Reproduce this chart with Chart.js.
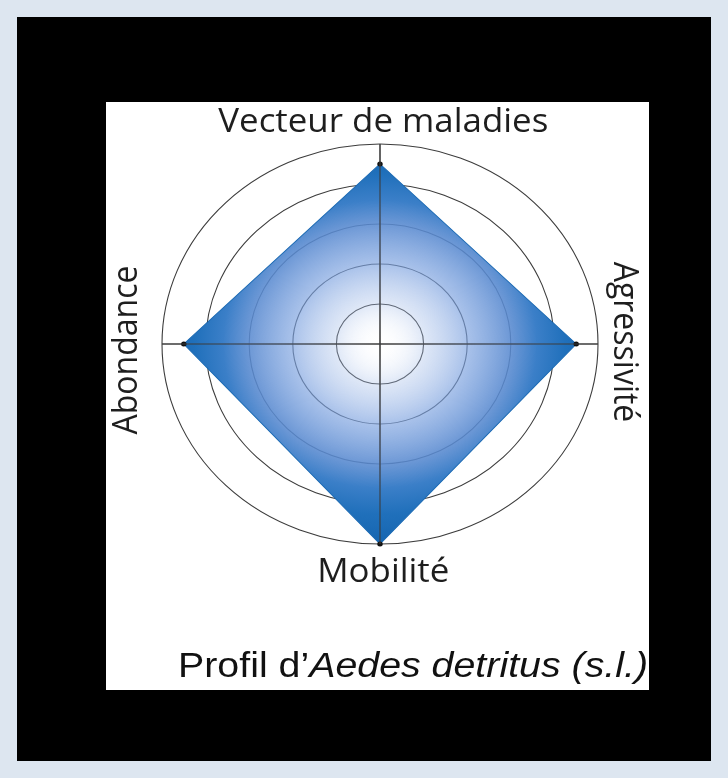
<!DOCTYPE html>
<html lang="fr">
<head>
<meta charset="utf-8">
<title>Profil d'Aedes detritus</title>
<script src="https://cdn.jsdelivr.net/npm/chart.js@4.4.1/dist/chart.umd.min.js"></script>
<style>
  html, body { margin: 0; padding: 0; }
  body { width: 728px; height: 778px; background: #dde6f0; position: relative; overflow: hidden; }
  #frame { position: absolute; left: 17px; top: 17px; width: 694px; height: 744px; background: #000; }
  #panel { position: absolute; left: 106px; top: 102px; width: 543px; height: 588px; background: #fff; }
  #graph { position: absolute; left: 0; top: 0; }
</style>
</head>
<body>
<div id="frame"></div>
<div id="panel"></div>
<canvas id="graph" width="728" height="778"></canvas>
<script>
var axisLabels = ['Vecteur de maladies', 'Agressivité', 'Mobilité', 'Abondance'];
var profileValues = [4.5, 4.5, 5, 4.5];
var scaleMax = 5;
var ringStep = 1;
var captionPlain = 'Profil d\u2019';
var captionItalic = 'Aedes detritus (s.l.)';

// the source picture is stretched sideways, so the rings are ellipses
var stretchX = 1.09;

// label placement (gap past the outer ring, small shift, rotation)
var labelGap = [12, 15, 38, 23];
var labelShift = [[3, 0], [0, -2], [3, 0], [0, 6]];
var labelRotation = [0, Math.PI / 2, 0, -Math.PI / 2];

var gridColor = '#3c3c3c';

// white centre fading to deep blue, see-through near the middle so the rings show
function fillGradient(context) {
  var chart = context.chart;
  var r = chart.scales.r;
  if (!r || !chart.chartArea) return '#2070bb';
  var g = chart.ctx.createRadialGradient(r.xCenter, r.yCenter, 0, r.xCenter, r.yCenter, r.drawingArea);
  g.addColorStop(0, 'rgba(255,255,255,0)');
  g.addColorStop(0.2, 'rgba(164,189,232,0.35)');
  g.addColorStop(0.4, 'rgba(123,161,223,0.65)');
  g.addColorStop(0.6, 'rgba(89,138,208,0.88)');
  g.addColorStop(0.72, 'rgba(59,127,200,1)');
  g.addColorStop(0.85, 'rgba(32,112,187,1)');
  g.addColorStop(1, 'rgba(21,101,176,1)');
  return g;
}

var stretchPlugin = {
  id: 'stretch',
  beforeDraw: function(chart) {
    var r = chart.scales.r, ctx = chart.ctx;
    ctx.save();
    ctx.translate(r.xCenter, 0);
    ctx.scale(stretchX, 1);
    ctx.translate(-r.xCenter, 0);
  },
  afterDatasetsDraw: function(chart) {
    var r = chart.scales.r, ctx = chart.ctx, i, p;

    // axis lines go over the fill
    ctx.save();
    ctx.strokeStyle = gridColor;
    ctx.lineWidth = 1;
    for (i = 0; i < chart.data.labels.length; i++) {
      p = r.getPointPosition(i, r.drawingArea);
      ctx.beginPath();
      ctx.moveTo(r.xCenter, r.yCenter);
      ctx.lineTo(p.x, p.y);
      ctx.stroke();
    }
    ctx.restore();

    // axis names, the side ones turned
    ctx.save();
    ctx.fillStyle = '#1e1e1e';
    ctx.font = '32px "Open Sans", "Noto Sans", sans-serif';
    ctx.textAlign = 'center';
    ctx.textBaseline = 'alphabetic';
    for (i = 0; i < chart.data.labels.length; i++) {
      p = r.getPointPosition(i, r.drawingArea + labelGap[i]);
      ctx.save();
      ctx.translate(p.x + labelShift[i][0], p.y + labelShift[i][1]);
      ctx.rotate(labelRotation[i]);
      ctx.fillText(chart.data.labels[i], 0, 0);
      ctx.restore();
    }
    ctx.restore();
  },
  afterDraw: function(chart) {
    var ctx = chart.ctx;
    ctx.restore();

    // caption under the chart
    var plainFont = '35px "Liberation Sans", Arial, sans-serif';
    var italicFont = 'italic 35px "Liberation Sans", Arial, sans-serif';
    ctx.save();
    ctx.fillStyle = '#111';
    ctx.textAlign = 'left';
    ctx.textBaseline = 'alphabetic';
    ctx.font = plainFont;
    var w1 = ctx.measureText(captionPlain).width;
    ctx.font = italicFont;
    var w2 = ctx.measureText(captionItalic).width;
    ctx.translate(178, 677);
    ctx.scale(470 / (w1 + w2), 1);
    ctx.font = plainFont;
    ctx.fillText(captionPlain, 0, 0);
    ctx.font = italicFont;
    ctx.fillText(captionItalic, w1, 0);
    ctx.restore();
  }
};

var chart = new Chart(document.getElementById('graph').getContext('2d'), {
  type: 'radar',
  data: {
    labels: axisLabels,
    datasets: [{
      data: profileValues,
      fill: true,
      backgroundColor: fillGradient,
      borderColor: '#1a69b3',
      borderWidth: 1,
      pointRadius: 2.5,
      pointBackgroundColor: '#111',
      pointBorderWidth: 0,
      clip: false
    }]
  },
  options: {
    responsive: false,
    animation: false,
    events: [],
    layout: { padding: { left: 180, right: 148, top: 144, bottom: 234 } },
    plugins: {
      legend: { display: false },
      tooltip: { enabled: false }
    },
    scales: {
      r: {
        min: 0,
        max: scaleMax,
        ticks: { display: false, stepSize: ringStep },
        grid: { circular: true, color: gridColor, lineWidth: 1 },
        angleLines: { color: gridColor, lineWidth: 1 },
        pointLabels: { display: false }
      }
    }
  },
  plugins: [stretchPlugin]
});
</script>
</body>
</html>
